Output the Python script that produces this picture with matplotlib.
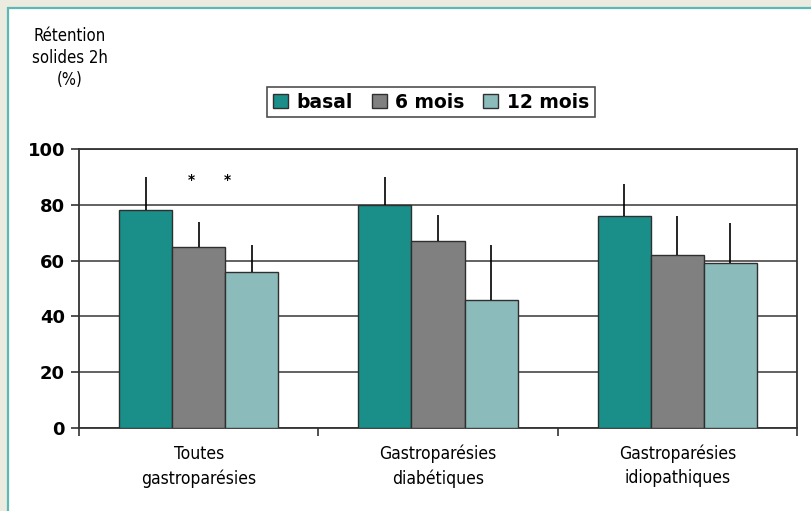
import numpy as np
import matplotlib.pyplot as plt
from matplotlib.patches import Rectangle

categories = ["Toutes\ngastroparésies", "Gastroparésies\ndiabétiques", "Gastroparésies\nidiopathiques"]
series = ["basal", "6 mois", "12 mois"]
basal = [78, 80, 76]
mois6 = [65, 67, 62]
mois12 = [56, 46, 59]
err_basal = [12, 10, 11.5]
err_mois6 = [9, 9.5, 14]
err_mois12 = [9.5, 19.5, 14.5]
yticks = [0, 20, 40, 60, 80, 100]

colors = ["#1a8f8a", "#808080", "#8bbcbb"]
values = [basal, mois6, mois12]
errors = [err_basal, err_mois6, err_mois12]

narrow = dict(family=["Liberation Sans Narrow", "DejaVu Sans"], stretch="condensed")

fig = plt.figure(figsize=(8.11, 5.11), dpi=100)
fig.patch.set_facecolor("#ecebe0")
# white panel with teal border
fig.patches.append(Rectangle((8 / 811, -0.05), 1.1, (511 - 8) / 511 + 0.05,
                             transform=fig.transFigure, facecolor="white",
                             edgecolor="#5cb8b4", linewidth=1.6, zorder=-5))

ax = fig.add_axes([79 / 811, 83 / 511, 718 / 811, 279 / 511])
ax.set_zorder(2)
ax.set_facecolor("white")

x = np.arange(len(categories))
w = 0.222
for i, (vals, errs) in enumerate(zip(values, errors)):
    xs = x + (i - 1) * w
    ax.bar(xs, vals, width=w, color=colors[i], edgecolor="#2f2f2f",
           linewidth=1.0, label=series[i], zorder=3)
    ax.errorbar(xs, vals, yerr=[np.zeros(len(errs)), errs], fmt="none",
                ecolor="black", elinewidth=1.2, capsize=0, zorder=4)

# significance marks
ax.text(-0.03, 89, "*", ha="center", va="center", fontsize=10, fontweight="bold")
ax.text(0.12, 89, "*", ha="center", va="center", fontsize=10, fontweight="bold")

ax.set_xlim(-0.5, 2.5)
ax.set_ylim(0, 100)
ax.set_yticks(yticks)
ax.set_yticklabels([str(t) for t in yticks], fontsize=13, fontweight="bold")
ax.yaxis.grid(True, color="#555555", linewidth=1.3, zorder=0)
ax.set_axisbelow(True)

ax.set_xticks([-0.5, 0.5, 1.5, 2.5])
ax.set_xticklabels([])
ax.set_xticks(x, minor=True)
ax.set_xticklabels(categories, minor=True, fontsize=12.5, linespacing=1.45, **narrow)
ax.tick_params(axis="x", which="minor", length=0, pad=12)
ax.tick_params(axis="x", which="major", length=6, width=1.2, color="#333333")
ax.tick_params(axis="y", length=6, width=1.2, color="#333333", pad=4)
for s in ax.spines.values():
    s.set_color("#333333")
    s.set_linewidth(1.3)

fig.text(70 / 811, 1 - 58 / 511, "Rétention\nsolides 2h\n(%)", ha="center",
         va="center", fontsize=12, linespacing=1.3, **narrow)

leg = fig.legend(loc="center", bbox_to_anchor=(431 / 811, 1 - 102 / 511),
                 ncol=3, frameon=True, fancybox=False, edgecolor="#222222",
                 prop={"weight": "bold", "size": 13.5}, handlelength=0.8,
                 handleheight=0.8, handletextpad=0.45, columnspacing=1.0,
                 borderpad=0.3)
leg.get_frame().set_linewidth(1.2)

fig.savefig("out.png", dpi=100, facecolor=fig.get_facecolor())
